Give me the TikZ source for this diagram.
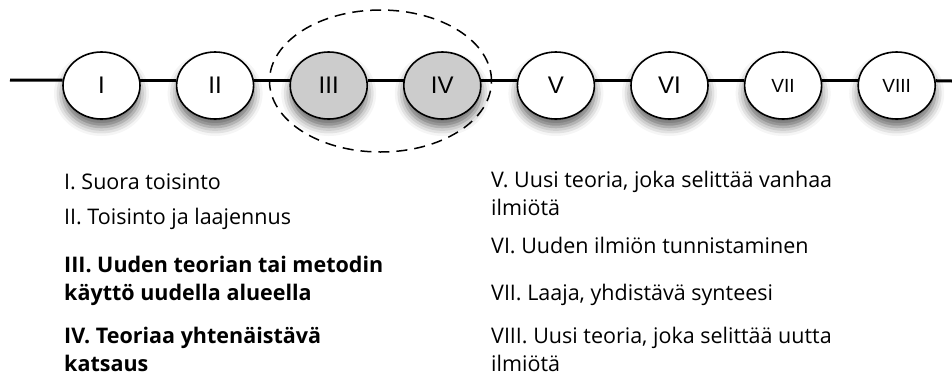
\documentclass[tikz,border=0pt]{standalone}
\usepackage{fontspec}
\setmainfont{Open Sans}
\newfontfamily\stagefont{Liberation Sans}
\usetikzlibrary{positioning,shapes,shadows.blur}

\begin{document}
\begin{tikzpicture}[x=1pt,y=-1pt,
  		stage/.style={ellipse,draw,line width=1.6pt,fill=white,minimum width=77pt,minimum height=67pt,inner sep=0pt,
    		font=\stagefont\fontsize{24}{24}\selectfont,
    		blur shadow={shadow xshift=0pt,shadow yshift=-8pt,shadow blur radius=9pt,shadow opacity=60}},
  		focus/.style={stage,fill=gray!40},
  		small/.style={font=\stagefont\fontsize{19}{19}\selectfont},
  		link/.style={line width=3pt},
  		group/.style={ellipse,draw,dashed,dash pattern=on 11pt off 7pt,line width=1.5pt,minimum width=222pt,minimum height=142pt},
  		item/.style={anchor=base west,inner sep=0pt,align=left,font=\fontsize{21.5}{27.5}\selectfont},
  		bolditem/.style={item,font=\bfseries\fontsize{21.5}{27.5}\selectfont}]
    		\useasboundingbox (0,0) rectangle (952,376);
    		% Stages
      		\node[stage] (I) at (101.5,85.5) {I};
      		\node[stage,right=35pt of I] (II) {II};
      		\node[focus,right=35pt of II] (III) {III};
      		\node[focus,right=35pt of III] (IV) {IV};
      		\node[stage,right=35pt of IV] (V) {V};
      		\node[stage,right=35pt of V] (VI) {VI};
      		\node[stage,small,right=35pt of VI] (VII) {VII};
      		\node[stage,small,right=35pt of VII] (VIII) {VIII};
      		\coordinate (start) at (10,80);
      		\coordinate (end) at (952,81);
    		% Connectors
      		\draw[link] (start) -- (I.172);
      		\draw[link] (I.8) -- (II.172);
      		\draw[link] (II.8) -- (III.172);
      		\draw[link] (III.8) -- (IV.172);
      		\draw[link] (IV.8) -- (V.172);
      		\draw[link] (V.8) -- (VI.172);
      		\draw[link] (VI.7) -- (VII.173);
      		\draw[link] (VII.7) -- (VIII.173);
      		\draw[link] (VIII.7) -- (end);
      		\node[group,yshift=4.5pt] (focusgroup) at (380.5,85.5) {};
    		% Descriptions (base = last line)
      		\node[item] (dI) at (64,189) {I. Suora toisinto};
      		\node[item] (dII) at (64,224) {II. Toisinto ja laajennus};
      		\node[bolditem] (dIII) at (64,300) {III. Uuden teorian tai metodin\\käyttö uudella alueella};
      		\node[bolditem] (dIV) at (64,371) {IV. Teoriaa yhtenäistävä\\katsaus};
      		\node[item] (dV) at (491,215) {V. Uusi teoria, joka selittää vanhaa\\ilmiötä};
      		\node[item] (dVI) at (491,253) {VI. Uuden ilmiön tunnistaminen};
      		\node[item] (dVII) at (491,300) {VII. Laaja, yhdistävä synteesi};
      		\node[item] (dVIII) at (491,371) {VIII. Uusi teoria, joka selittää uutta\\ilmiötä};
	\end{tikzpicture}
\end{document}
